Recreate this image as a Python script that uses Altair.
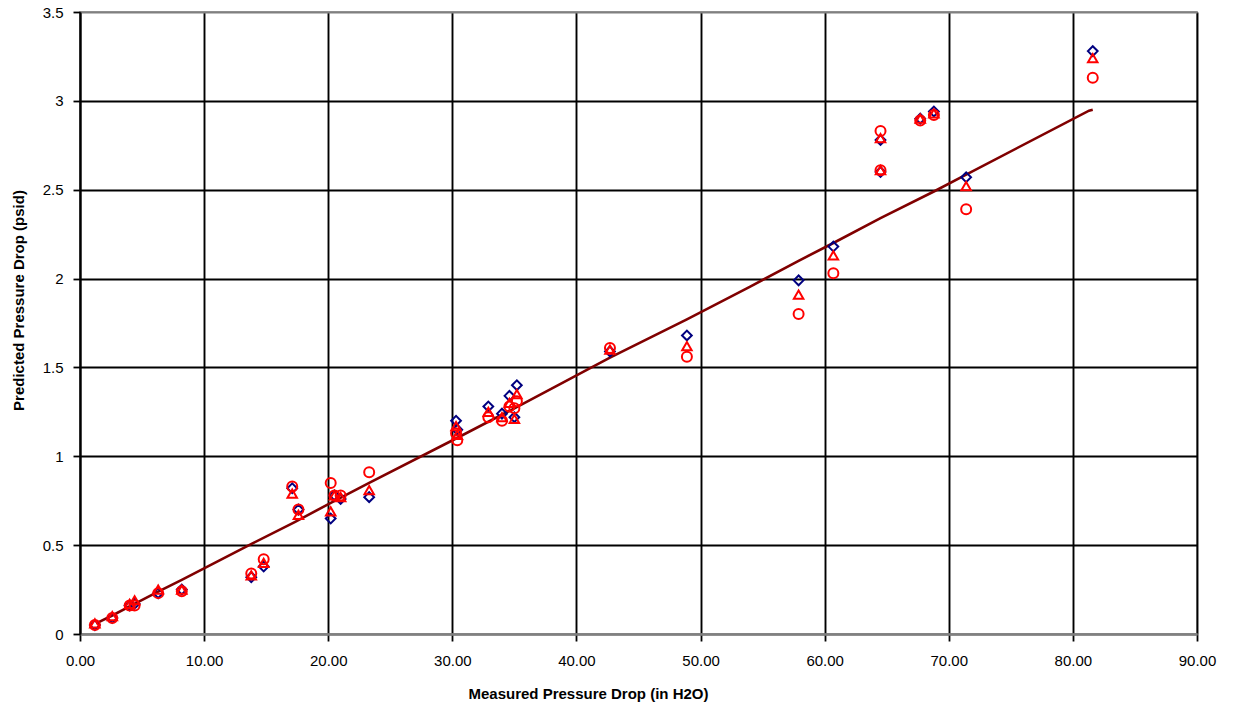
import altair as alt
import pandas as pd

# Measured pressure drop (in H2O)
x_meas = [1.2, 2.6, 4.0, 4.4, 6.3, 8.2, 13.8, 14.8, 17.1, 17.6, 20.2, 20.5, 21.0, 23.3,
          30.3, 30.4, 32.9, 34.0, 34.6, 35.0, 35.2, 42.7, 48.9, 57.9, 60.7, 64.5, 64.5,
          67.7, 68.8, 71.4, 81.6]
# Predicted pressure drop (psid), three series
pred_diamond = [0.05, 0.09, 0.16, 0.17, 0.23, 0.25, 0.32, 0.38, 0.82, 0.70, 0.65, 0.78, 0.76, 0.77,
                1.20, 1.15, 1.28, 1.24, 1.34, 1.22, 1.40, 1.59, 1.68, 1.99, 2.18, 2.78, 2.60,
                2.90, 2.94, 2.57, 3.28]
pred_triangle = [0.06, 0.10, 0.17, 0.19, 0.25, 0.25, 0.33, 0.40, 0.79, 0.67, 0.69, 0.78, 0.77, 0.81,
                 1.17, 1.12, 1.25, 1.22, 1.30, 1.21, 1.35, 1.60, 1.62, 1.91, 2.13, 2.79, 2.61,
                 2.90, 2.93, 2.52, 3.24]
pred_circle = [0.05, 0.09, 0.16, 0.16, 0.23, 0.24, 0.34, 0.42, 0.83, 0.70, 0.85, 0.78, 0.78, 0.91,
               1.13, 1.09, 1.22, 1.20, 1.28, 1.27, 1.31, 1.61, 1.56, 1.80, 2.03, 2.83, 2.61,
               2.89, 2.92, 2.39, 3.13]
# Measured line (converted to psid)
line_x = [1.3, 2.6, 4.2, 6.3, 8.2, 13.9, 17.3, 20.4, 23.3, 30.3, 35.0, 42.7, 48.9, 54.0,
          57.9, 60.7, 64.5, 68.8, 71.4, 81.3, 81.6]
line_y = [0.06, 0.104, 0.162, 0.238, 0.305, 0.51, 0.63, 0.745, 0.85, 1.10, 1.27, 1.555, 1.77,
          1.955, 2.10, 2.20, 2.34, 2.49, 2.585, 2.945, 2.95]

x_ticks = [0, 10, 20, 30, 40, 50, 60, 70, 80, 90]
y_ticks = [0, 0.5, 1, 1.5, 2, 2.5, 3, 3.5]

FONT = "Liberation Sans"

xscale = alt.Scale(domain=[0, 90], nice=False, zero=False)
yscale = alt.Scale(domain=[0, 3.5], nice=False, zero=False)

xaxis = alt.Axis(
    values=x_ticks, format=".2f", title="Measured Pressure Drop (in H2O)",
    grid=True, gridColor="black", gridWidth=1.9,
    domainColor="#808080", domainWidth=2.5,
    tickColor="black", tickSize=7, tickWidth=1.8,
    labelFont=FONT, labelFontSize=15, labelColor="black", labelPadding=12,
    titleFont=FONT, titleFontSize=15, titleFontWeight="bold", titleColor="black",
    titleX=508, titleY=52, titleAnchor="middle", titleAlign="center", titleBaseline="top",
    labelFlush=False,
)
yaxis = alt.Axis(
    values=y_ticks, labelExpr="'' + datum.value", title="Predicted  Pressure Drop (psid)",
    grid=True,
    gridColor=alt.condition("datum.value >= 3.5 || datum.value <= 0", alt.value("#808080"), alt.value("black")),
    gridWidth=1.9,
    domainColor="black", domainWidth=2,
    tickColor="black", tickSize=7, tickWidth=1.8,
    labelFont=FONT, labelFontSize=15, labelColor="black", labelPadding=10,
    titleFont=FONT, titleFontSize=15, titleFontWeight="bold", titleColor="black",
    titleX=-62, titleY=288, titleAngle=270, titleAlign="center", titleBaseline="middle",
    labelFlush=False,
)

df_pts = pd.DataFrame({"x": x_meas, "d": pred_diamond, "t": pred_triangle, "c": pred_circle})
df_line = pd.DataFrame({"x": line_x, "y": line_y})

base = alt.Chart(df_pts)

line = alt.Chart(df_line).mark_line(color="#800000", strokeWidth=2.6).encode(
    x=alt.X("x:Q", scale=xscale, axis=xaxis),
    y=alt.Y("y:Q", scale=yscale, axis=yaxis),
    order="x:Q",
)

dia = base.mark_point(shape="diamond", filled=False, color="#000080", size=95, strokeWidth=2,
                      opacity=1).encode(
    x=alt.X("x:Q", scale=xscale), y=alt.Y("d:Q", scale=yscale))
tri = base.mark_point(shape="triangle-up", filled=False, color="#FF0000", size=90, strokeWidth=2,
                      opacity=1).encode(
    x=alt.X("x:Q", scale=xscale), y=alt.Y("t:Q", scale=yscale))
cir = base.mark_point(shape="circle", filled=False, color="#FF0000", size=100, strokeWidth=2,
                      opacity=1).encode(
    x=alt.X("x:Q", scale=xscale), y=alt.Y("c:Q", scale=yscale))

chart = alt.layer(line, dia, tri, cir).properties(
    width=1117, height=622,
    autosize=alt.AutoSizeParams(type="none"),
    padding={"left": 80, "top": 12, "right": 38, "bottom": 77},
    background="white",
).configure_view(stroke="#808080", strokeWidth=1.5)

chart.save("out.html", embed_options={"renderer": "svg", "actions": False})
